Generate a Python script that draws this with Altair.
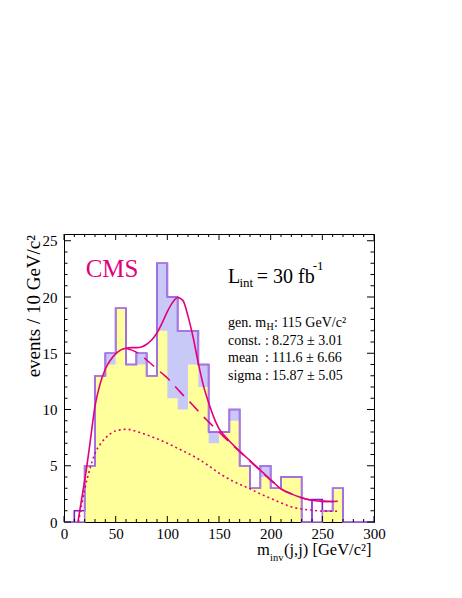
import altair as alt
import pandas as pd

# ---------------- data ----------------
bin_lo = list(range(0, 300, 10))
data_counts  = [0, 1, 5, 13, 15, 19, 14, 15, 13, 23, 20, 17, 17, 14, 8, 8, 10, 5, 3, 5, 3, 4, 4, 0, 2, 1, 3, 0, 0, 0]
stack_counts = [0, 0, 5, 13, 15, 19, 14, 15, 13, 23, 20, 17, 17, 14, 8, 8, 10, 5, 3, 5, 3, 4, 4, 0, 0, 1, 3, 0, 0, 0]
bkg_counts   = [0, 0, 5, 13, 14, 19, 14, 14, 13, 17, 11, 10, 14, 12, 7, 8, 9, 5, 3, 4, 3, 4, 4, 0, 0, 1, 3, 0, 0, 0]

fit_x = [13.5, 17, 20, 22, 25, 30, 35, 40, 45, 50, 55, 60, 65, 70, 75, 80, 85, 90, 95, 100,
         105, 110, 115, 120, 125, 130, 135, 140, 145, 150, 155, 160, 170, 180, 190, 200,
         210, 220, 230, 240, 250, 258, 265]
fit_y = [0.0, 2.0, 3.7, 4.9, 6.9, 10.3, 12.3, 13.6, 14.4, 14.95, 15.3, 15.45, 15.5, 15.5, 15.55, 15.8, 16.2, 16.8, 17.7, 18.7,
         19.5, 19.95, 19.7, 18.3, 16.4, 14.1, 12.1, 10.6, 9.3, 8.3, 7.7, 7.2, 6.3, 5.45, 4.6, 3.75,
         2.95, 2.5, 2.15, 1.93, 1.83, 1.82, 1.85]

bgfit_x = [60, 65, 70, 75, 80, 85, 90, 95, 100, 105, 110, 115, 120, 125, 130, 135, 140, 145, 150,
           155, 160, 170, 180, 190, 200, 210, 220, 230, 240, 250, 258, 265]
bgfit_y = [15.45, 15.3, 15.1, 14.8, 14.4, 14.0, 13.6, 13.2, 12.8, 12.3, 11.8, 11.3, 10.85, 10.35, 9.85, 9.35, 8.9, 8.45, 8.0,
           7.55, 7.1, 6.25, 5.4, 4.57, 3.73, 2.95, 2.5, 2.15, 1.93, 1.83, 1.82, 1.85]

dot_x = [14, 17, 20, 25, 30, 35, 40, 45, 50, 55, 60, 65, 70, 80, 90, 100, 110, 120, 130, 140,
         150, 160, 170, 180, 190, 200, 210, 220, 230, 240, 250, 265]
dot_y = [0.0, 1.5, 2.9, 4.7, 6.1, 6.9, 7.45, 7.85, 8.1, 8.2, 8.25, 8.2, 8.05, 7.75, 7.4, 7.0, 6.55, 6.1, 5.6, 5.0,
         4.35, 3.8, 3.35, 2.95, 2.5, 2.1, 1.7, 1.35, 1.15, 1.05, 0.97, 0.95]

x_major = [0, 50, 100, 150, 200, 250, 300]
x_minor = [v for v in range(0, 301, 10) if v % 50 != 0]
y_major = [0, 5, 10, 15, 20, 25]
y_minor = [v for v in range(0, 26) if v % 5 != 0]

fit_names = ["const.", "mean", "sigma"]
fit_values = ["8.273 \u00b1 3.01", "111.6 \u00b1 6.66", "15.87 \u00b1 5.05"]

# ---------------- style ----------------
W, H = 310, 288
FONT = "Liberation Serif"
MAG = "#e4007c"
DARK_PURPLE = "#7b1fd1"
LIGHT_PURPLE = "#a878e4"
BLUE_FILL = "#c9c9f7"
YELLOW_FILL = "#ffff9c"

xs = alt.Scale(domain=[0, 300], nice=False, zero=False)
ys = alt.Scale(domain=[0, 25.6], nice=False, zero=True)
xaxis = alt.Axis(values=x_major, ticks=False, domain=False, grid=False, title=None,
                 labelFont=FONT, labelFontSize=15, labelPadding=4, labelColor="black",
                 labelFlush=False)
yaxis = alt.Axis(values=y_major, ticks=False, domain=False, grid=False, title=None,
                 labelFont=FONT, labelFontSize=15, labelPadding=7, labelColor="black")


def steps(vals):
    return pd.DataFrame({"x": bin_lo + [300], "y": vals + [vals[-1]]})


X = alt.X("x:Q", scale=xs, axis=xaxis)
Y = alt.Y("y:Q", scale=ys, axis=yaxis)

stack_fill = alt.Chart(steps(stack_counts)).mark_area(
    interpolate="step-after", color=BLUE_FILL, opacity=1).encode(x=X, y=Y)
bkg_fill = alt.Chart(steps(bkg_counts)).mark_area(
    interpolate="step-after", color=YELLOW_FILL, opacity=1).encode(x=X, y=Y)
data_line = alt.Chart(steps(data_counts)).mark_line(
    interpolate="step-after", color=DARK_PURPLE, strokeWidth=1.6).encode(x=X, y=Y)
stack_line = alt.Chart(steps(stack_counts)).mark_line(
    interpolate="step-after", color=LIGHT_PURPLE, strokeWidth=1.6).encode(x=X, y=Y)

dotted = alt.Chart(pd.DataFrame({"x": dot_x, "y": dot_y})).mark_line(
    interpolate="monotone", color=MAG, strokeWidth=1.6, strokeDash=[2, 3]).encode(x=X, y=Y)
dashed = alt.Chart(pd.DataFrame({"x": bgfit_x, "y": bgfit_y})).mark_line(
    interpolate="monotone", color=MAG, strokeWidth=1.6, strokeDash=[13, 8]).encode(x=X, y=Y)
solid = alt.Chart(pd.DataFrame({"x": fit_x, "y": fit_y})).mark_line(
    interpolate="monotone", color=MAG, strokeWidth=1.6).encode(x=X, y=Y)


def xticks(vals, length):
    d = pd.DataFrame({"x": vals})
    b = alt.Chart(d).mark_rule(color="black", strokeWidth=1).encode(
        x=X, y=alt.value(H), y2=alt.value(H - length))
    t = alt.Chart(d).mark_rule(color="black", strokeWidth=1).encode(
        x=X, y=alt.value(0), y2=alt.value(length))
    return [b, t]


def yticks(vals, length):
    d = pd.DataFrame({"y": vals})
    l = alt.Chart(d).mark_rule(color="black", strokeWidth=1).encode(
        y=Y, x=alt.value(0), x2=alt.value(length))
    r = alt.Chart(d).mark_rule(color="black", strokeWidth=1).encode(
        y=Y, x=alt.value(W), x2=alt.value(W - length))
    return [l, r]


def text(s, x, y, size, color="black", angle=None, align="left"):
    kw = dict(font=FONT, fontSize=size, color=color, align=align, baseline="alphabetic")
    if angle is not None:
        kw["angle"] = angle
    return alt.Chart(pd.DataFrame({"t": [s]})).mark_text(**kw).encode(
        text="t:N", x=alt.value(x), y=alt.value(y))


texts = [
    text("CMS", 21.7, 43, 25, MAG),
    text("L", 164, 49.3, 20),
    text("int", 175.5, 53, 13),
    text("= 30 fb", 192.7, 49.3, 20),
    text("-1", 248.7, 36, 13),
    text("gen. m", 164, 93, 14),
    text("H", 202.5, 96, 10),
    text(": 115 GeV/c\u00b2", 210, 93, 14),
]
for i, (n, v) in enumerate(zip(fit_names, fit_values)):
    yy = 110.5 + 17.5 * i
    texts.append(text(n, 164, yy, 14))
    texts.append(text(":", 201, yy, 14))
    texts.append(text(v, 208, yy, 14))

texts += [
    text("m", 193, 321.3, 16.5),
    text("inv", 206, 327, 10.5),
    text("(j,j) [GeV/c\u00b2]", 220, 321.3, 16.5),
    text("events / 10 GeV/c\u00b2", -24, 1, 19, angle=270, align="right"),
]

layers = [stack_fill, bkg_fill, data_line, stack_line, dotted, dashed, solid]
layers += xticks(x_major, 6) + xticks(x_minor, 3)
layers += yticks(y_major, 7) + yticks(y_minor, 3.5)
layers += texts

chart = alt.layer(*layers).properties(
    width=W, height=H,
    autosize=alt.AutoSizeParams(type="none"),
    padding={"left": 56, "top": 226, "right": 80, "bottom": 60},
    background="white",
).configure_view(stroke="black", strokeWidth=1)

chart.save("out.html", embed_options={"renderer": "svg", "actions": False})
